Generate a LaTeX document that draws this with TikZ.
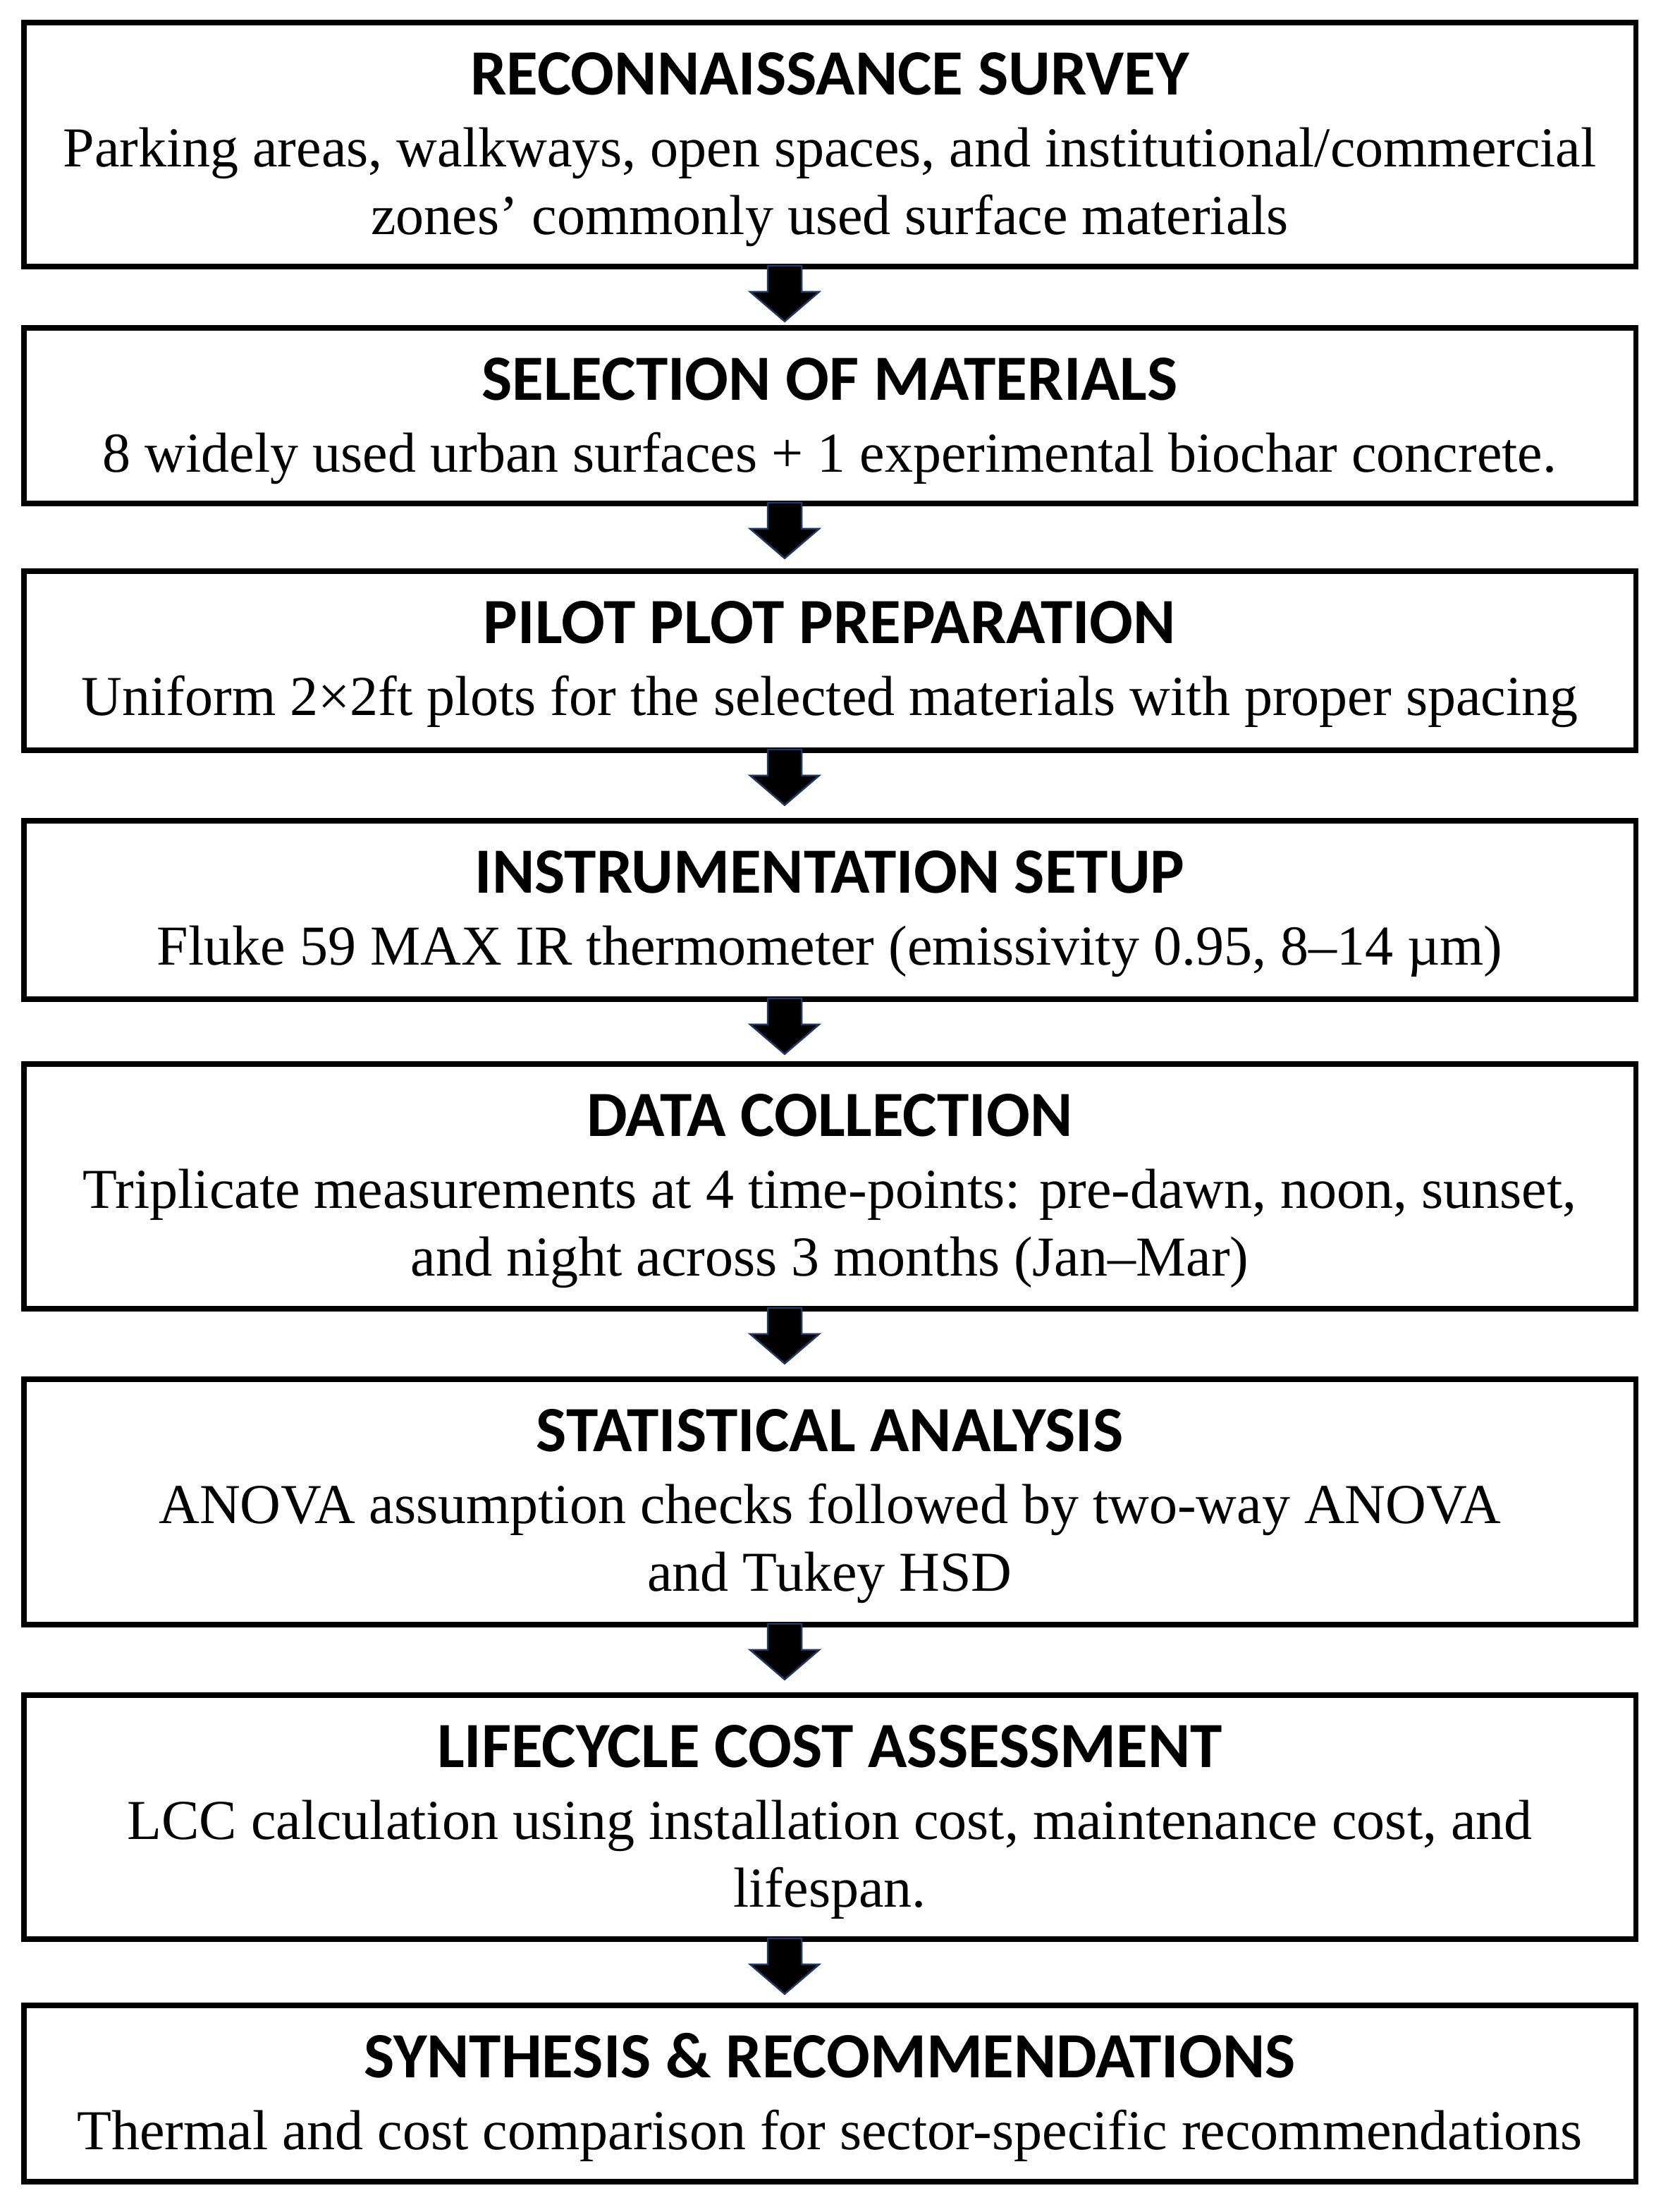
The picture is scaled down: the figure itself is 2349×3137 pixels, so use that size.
\documentclass[tikz,border=0pt]{standalone}
\usepackage{fontspec}
\setmainfont{Liberation Serif}
\newfontfamily\ttlfont{Carlito}
\definecolor{arrowblue}{HTML}{203864}
\tikzset{
  box/.style={draw=black, line width=7.5pt, minimum width=2286.5pt, inner sep=0pt, fill=white},
  ttlnode/.style={anchor=base, inner sep=0pt, font=\ttlfont\bfseries\fontsize{91.5}{100}\selectfont},
  bodynode/.style={anchor=base, inner sep=0pt, font=\fontsize{80}{96}\selectfont},
  blk/.style={fill=black, draw=arrowblue, line width=2.5pt, line join=miter},
}
\newcommand\blockarrow[1]{%
  \draw[blk] ([xshift=-88pt,yshift=5pt]#1.south) -- ++(48,0) -- ++(0,37) -- ++(25,0)
    -- ++(-49,42) -- ++(-49,-42) -- ++(25,0) -- cycle;}
\begin{document}
\begin{tikzpicture}[x=1pt,y=-1pt]
\useasboundingbox (0,0) rectangle (2349,3137);
\fill[white] (0,0) rectangle (2349,3137);

\node[box, minimum height=346pt] (b1) at (1177,205) {};
\node[box, minimum height=249pt] (b2) at (1177,589.5) {};
\node[box, minimum height=254pt] (b3) at (1177,937) {};
\node[box, minimum height=253pt] (b4) at (1177,1290.5) {};
\node[box, minimum height=347pt] (b5) at (1177,1682.5) {};
\node[box, minimum height=348pt] (b6) at (1177,2130) {};
\node[box, minimum height=346pt] (b7) at (1177,2577) {};
\node[box, minimum height=250pt] (b8) at (1177,2969) {};

\blockarrow{b1}
\blockarrow{b2}
\blockarrow{b3}
\blockarrow{b4}
\blockarrow{b5}
\blockarrow{b6}
\blockarrow{b7}

% box 1
\node[ttlnode] (t1) at ([yshift=-106pt]b1.north) {RECONNAISSANCE SURVEY};
\node[bodynode] (d1a) at ([yshift=-208pt]b1.north) {Parking areas, walkways, open spaces, and institutional/commercial};
\node[bodynode] (d1b) at ([yshift=-304pt]b1.north) {zones’ commonly used surface materials};
% box 2
\node[ttlnode] (t2) at ([yshift=-106pt]b2.north) {SELECTION OF MATERIALS};
\node[bodynode] (d2a) at ([yshift=-208pt]b2.north) {8 widely used urban surfaces + 1 experimental biochar concrete.};
% box 3
\node[ttlnode] (t3) at ([yshift=-106pt]b3.north) {PILOT PLOT PREPARATION};
\node[bodynode] (d3a) at ([yshift=-208pt]b3.north) {Uniform 2×2ft plots for the selected materials with proper spacing};
% box 4
\node[ttlnode] (t4) at ([yshift=-106pt]b4.north) {INSTRUMENTATION SETUP};
\node[bodynode] (d4a) at ([yshift=-208pt]b4.north) {Fluke 59 MAX IR thermometer (emissivity 0.95, 8–14 µm)};
% box 5
\node[ttlnode] (t5) at ([yshift=-106pt]b5.north) {DATA COLLECTION};
\node[bodynode] (d5a) at ([yshift=-208pt]b5.north) {Triplicate measurements at 4 time-points: pre-dawn, noon, sunset,};
\node[bodynode] (d5b) at ([yshift=-304pt]b5.north) {and night across 3 months (Jan–Mar)};
% box 6
\node[ttlnode] (t6) at ([yshift=-106pt]b6.north) {STATISTICAL ANALYSIS};
\node[bodynode] (d6a) at ([yshift=-208pt]b6.north) {ANOVA assumption checks followed by two-way ANOVA};
\node[bodynode] (d6b) at ([yshift=-304pt]b6.north) {and Tukey HSD};
% box 7
\node[ttlnode] (t7) at ([yshift=-106pt]b7.north) {LIFECYCLE COST ASSESSMENT};
\node[bodynode] (d7a) at ([yshift=-208pt]b7.north) {LCC calculation using installation cost, maintenance cost, and};
\node[bodynode] (d7b) at ([yshift=-304pt]b7.north) {lifespan.};
% box 8
\node[ttlnode] (t8) at ([yshift=-106pt]b8.north) {SYNTHESIS \& RECOMMENDATIONS};
\node[bodynode] (d8a) at ([yshift=-208pt]b8.north) {Thermal and cost comparison for sector-specific recommendations};
\end{tikzpicture}
\end{document}
